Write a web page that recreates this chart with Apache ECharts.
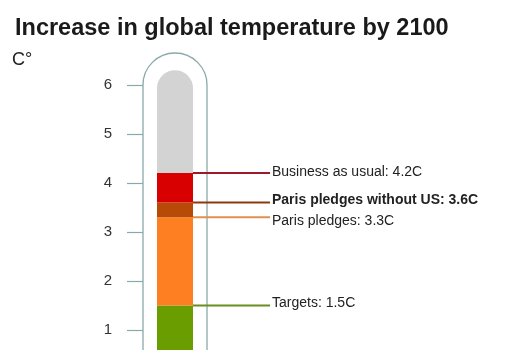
<!DOCTYPE html>
<html><head><meta charset="utf-8">
<script src="https://cdn.jsdelivr.net/npm/echarts@6/dist/echarts.min.js"></script>
<style>html,body{margin:0;padding:0;background:#fff}#c{width:525px;height:350px}</style>
</head><body><div id="c"></div>
<script>
var title = 'Increase in global temperature by 2100';
var unit = 'C°';
var yTicks = [1, 2, 3, 4, 5, 6];
var levels = [1.5, 3.3, 3.6, 4.2];
var scaleTop = 6.3;
var levelColors = ['#6a9e00', '#fe7f22', '#b84a07', '#d80000'];
var topColor = '#d3d3d3';
var annotationLabels = ['Targets: 1.5C', 'Paris pledges: 3.3C', 'Paris pledges without US: 3.6C', 'Business as usual: 4.2C'];
var annotationValues = [1.5, 3.3, 3.6, 4.2];
var annotationColors = ['#6b8e23', '#e0904f', '#8b3a0e', '#9b1b2a'];
var annotationBold = [false, false, true, false];
var annotationDy = [-2, 4, -2, -1];

var chart = echarts.init(document.getElementById('c'), null, {renderer: 'canvas'});
var segSeries = [];
var prev = 0;
var allLevels = levels.concat([scaleTop]);
var allColors = levelColors.concat([topColor]);
for (var i = 0; i < allLevels.length; i++) {
  var isTop = i === allLevels.length - 1;
  segSeries.push({
    type: 'bar', stack: 't', barWidth: 36, clip: false, silent: true, z: 3,
    data: [+(allLevels[i] - prev).toFixed(2)],
    itemStyle: {color: allColors[i], borderRadius: isTop ? [18, 18, 0, 0] : 0}
  });
  prev = allLevels[i];
}
var annData = annotationValues.map(function (v, i) { return [0, v, i]; });
var option = {
  animation: false,
  title: {text: title, left: 10, top: 12, textStyle: {fontFamily: 'Liberation Sans', fontSize: 23.5, fontWeight: 'bold', color: '#1a1a1a'}},
  graphic: [{type: 'text', left: 12, top: 51, style: {text: unit, font: '18px "Liberation Sans"', fill: '#222'}}],
  grid: {left: 143, width: 64, top: 53, bottom: 0, containLabel: false},
  xAxis: {type: 'category', data: ['t'], show: false, boundaryGap: true},
  yAxis: {
    type: 'value', min: 0.59, max: 6.65,
    splitLine: {show: false},
    axisLine: {show: false},
    axisTick: {show: true, length: 16, customValues: yTicks, lineStyle: {color: '#8aa9a9', width: 1.2}},
    axisLabel: {margin: 31, customValues: yTicks, fontFamily: 'Liberation Sans', fontSize: 15, color: '#333'}
  },
  series: segSeries.concat([
    {
      type: 'custom', silent: true, clip: false, z: 2,
      data: [[0, 6.65]],
      renderItem: function (params, api) {
        var top = api.coord([0, api.value(1)]);
        var bot = api.coord([0, 0]);
        var halfW = api.size([1, 0])[0] / 2;
        var r = halfW;
        var cx = top[0], cy = top[1] + r;
        var xl = cx - halfW, xr = cx + halfW;
        return {
          type: 'path',
          shape: {pathData: 'M' + xl + ' ' + (bot[1] + 20) + ' L' + xl + ' ' + cy +
            ' A' + r + ' ' + r + ' 0 0 1 ' + xr + ' ' + cy + ' L' + xr + ' ' + (bot[1] + 20)},
          style: {fill: null, stroke: '#8aa9a9', lineWidth: 1.3}
        };
      }
    },
    {
      type: 'custom', silent: true, clip: false, z: 5,
      data: annData,
      renderItem: function (params, api) {
        var idx = api.value(2);
        var p = api.coord([0, api.value(1)]);
        var x0 = p[0] + 18, x1 = p[0] + 95;
        return {
          type: 'group', children: [
            {type: 'line', shape: {x1: x0, y1: p[1], x2: x1, y2: p[1]}, style: {stroke: annotationColors[idx], lineWidth: 2}},
            {type: 'text', x: x1 + 2, y: p[1] + annotationDy[idx], style: {
              text: annotationLabels[idx], fill: '#222', verticalAlign: 'middle', align: 'left',
              font: (annotationBold[idx] ? 'bold ' : '') + '14px "Liberation Sans"'}}
          ]
        };
      }
    }
  ])
};
chart.setOption(option);
</script></body></html>
